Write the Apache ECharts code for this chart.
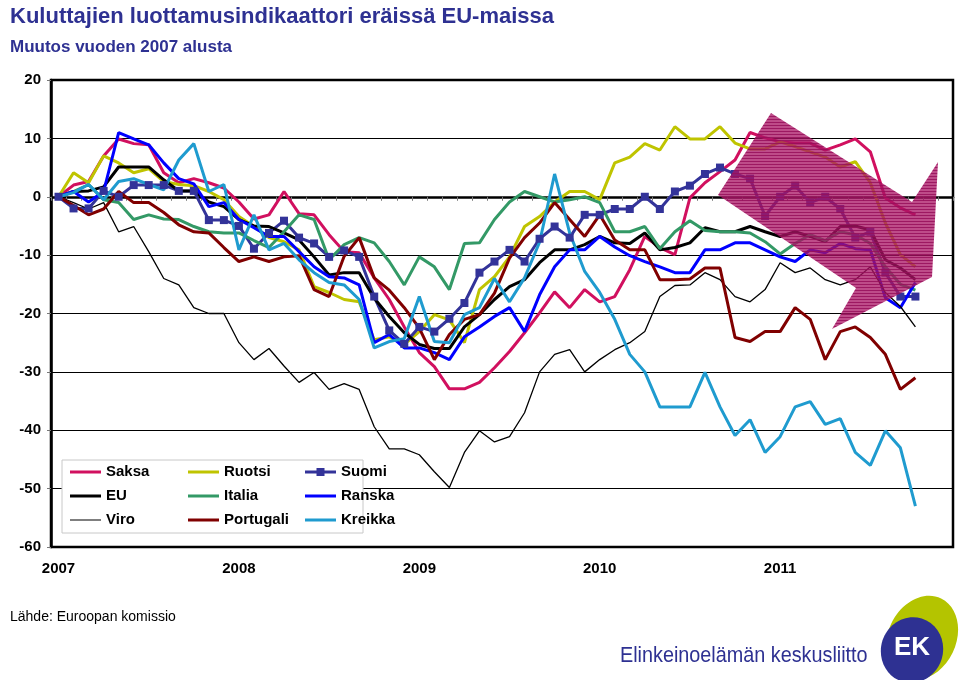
<!DOCTYPE html>
<html><head><meta charset="utf-8">
<script src="https://cdn.jsdelivr.net/npm/echarts@6/dist/echarts.min.js"></script>
<style>html,body{margin:0;padding:0;background:#fff}#c{width:960px;height:680px}</style>
</head><body><div id="c"></div>
<script>
// ---- data ----
const years = ['2007','2008','2009','2010','2011'];
const yTicks = [-60,-50,-40,-30,-20,-10,0,10,20];
const saksa = [0,2,2.6,7,9.9,9.1,8.9,4.1,2.4,3.1,2.4,1.5,-0.9,-3.8,-3.1,0.9,-2.9,-3.1,-6.5,-9.4,-9.6,-13.9,-17.6,-22.3,-26.7,-29.1,-32.9,-32.9,-31.8,-29.3,-26.5,-23.3,-19.9,-16.3,-19,-15.9,-18,-17.1,-12.5,-6.8,-8.7,-9.9,-0.2,2.4,4.3,6.3,11,10.1,9.4,9.2,9.2,8,8.9,9.9,7.7,-0.2,-1.9,-3.1];
const ruotsi = [0,4.1,2.4,7,5.8,4.1,4.8,2.6,2.1,1.9,0.9,-0.5,-3.4,-5.1,-7,-7.7,-9.1,-15.4,-16.4,-17.6,-18,-24.5,-24,-25.3,-23.1,-20.2,-21.1,-25,-15.9,-13.7,-10.3,-5.1,-3.4,-0.9,0.9,0.9,-0.5,5.8,6.8,9.1,8,12,9.9,9.9,12,9.2,8.2,8.2,9.4,8.6,7.7,6.8,5.1,6,2.4,-4.5,-9.9,-12];
const suomi = [0,-2,-2,1,0,2,2,2,1,1,-4,-4,-5,-8.9,-6.2,-4.1,-7,-8,-10.3,-9.2,-10.3,-17.1,-22.9,-25.2,-22.3,-23.1,-20.9,-18.2,-13,-11.1,-9.1,-11.1,-7.2,-5.1,-7,-3.1,-3.1,-2.1,-2.1,0,-2.1,0.9,1.9,3.9,5,3.9,3.1,-3.3,0,1.9,-1,0,-2.1,-7,-6,-13,-17.1,-17.1];
const eu = [0,0.9,1,1.7,5.1,5.1,5.1,2.9,1,1,-0.9,-1.7,-3.9,-5,-5.1,-6.2,-7.4,-10.3,-13.4,-13,-13,-17.4,-20.5,-23.3,-25.3,-26,-26,-22.3,-20.2,-17.6,-15.4,-14.2,-11.3,-9.1,-9.1,-8.2,-6.8,-7.9,-8,-6.2,-9.1,-8.7,-7.9,-5.3,-6,-6,-5.1,-6,-6.8,-6,-6.8,-7.7,-5.1,-5,-5.7,-10.8,-12.2,-14.2];
const italia = [0,0.9,2.1,-0.5,-1,-3.9,-3.1,-3.8,-3.9,-5.1,-6,-6.2,-6.2,-7.5,-8.7,-6,-3.1,-3.9,-10.8,-8.2,-7,-7.9,-11.1,-15.1,-10.3,-12,-15.9,-8,-7.9,-3.9,-0.9,0.9,0,-0.9,-0.5,0,-1,-6,-6,-5.1,-8.9,-6,-4.1,-5.8,-6,-6,-6.2,-7.7,-9.8,-8,-6.5,-7.5,-6,-6.5,-8,-12,-15,-16];
const ranska = [0,0.9,-0.9,0.9,11,9.9,8.9,5.8,3.1,2.2,-1.7,-1,-3.9,-5.3,-6.8,-6.8,-9.4,-12,-13.7,-13.9,-15.1,-25,-23.6,-25.9,-25.9,-26.7,-27.9,-24,-22.3,-20.5,-19,-23.1,-16.8,-12,-9.1,-9.1,-6.8,-8.6,-10.1,-11.1,-12,-13,-13,-9.1,-9.1,-7.9,-7.9,-9.1,-10.3,-11.1,-9.1,-9.6,-8,-8.9,-9.1,-17.3,-19,-14.7];
const viro = [0,-1,-2.1,-1,-6,-5.1,-9.4,-14,-15.1,-19,-20,-20,-25,-27.9,-26,-29,-31.8,-30.1,-33,-32,-33,-39.4,-43.2,-43.2,-44.2,-47.1,-49.8,-43.8,-40.1,-42,-41.1,-37,-30,-27,-26.2,-30,-27.9,-26.2,-25,-23.1,-17.1,-15.2,-15.1,-13,-14.2,-17.1,-18,-15.9,-11.3,-13,-12.2,-14.2,-15.1,-14.2,-12,-16.4,-18.8,-22.3];
const portugali = [0,-1.5,-3.1,-2.1,0.9,-1,-1,-2.7,-4.8,-6,-6.2,-8.7,-11.1,-10.3,-11.1,-10.3,-10.1,-15.9,-17.1,-10.2,-7,-13.9,-16,-19,-22.5,-27.9,-23.6,-21,-20.2,-16.5,-10.5,-7,-4.5,-1,-3.9,-6.8,-3.1,-7.4,-9.1,-9.1,-14.2,-14.2,-14.1,-12.2,-12.2,-24.1,-24.8,-23.1,-23.1,-19,-21,-27.9,-23.1,-22.3,-24.1,-27,-33,-31];
const kreikka = [0,0.7,2.1,-0.5,2.6,3.1,2.1,1.2,6.3,9.1,0.9,2.1,-9.1,-3.1,-9.1,-8,-10.8,-13,-14.7,-15.1,-17.6,-25.9,-24.8,-24.3,-17.1,-24.8,-25,-20.2,-19,-14,-18,-13.9,-7.8,3.9,-6.2,-12.8,-16.4,-21,-27,-30,-36,-36,-36,-30.1,-36,-40.9,-38.2,-43.8,-41.1,-36,-35.1,-39,-38,-43.8,-46,-40.1,-43,-53];

const categories = [];
years.forEach(y => { for (let m = 1; m <= 12; m++) categories.push(y + '-' + (m < 10 ? '0' + m : m)); });

// ---- chart ----
const FONT = '"Liberation Sans", Arial, sans-serif';
const NAVY = '#2e3192';
const chart = echarts.init(document.getElementById('c'));

function mk(name, data, color, width, extra) {
  return Object.assign({
    name, type: 'line', data, symbol: 'none', showSymbol: false,
    lineStyle: { color, width }, itemStyle: { color },
    emphasis: { disabled: true }, animation: false
  }, extra || {});
}

// legend icon paths (tiny corner dots keep the box 31x16 so nothing is stretched)
const BOX = 'M0,0L0.01,0L0,0.01Z M31,16L30.99,16L31,15.99Z ';
const ICON_THICK = 'path://' + BOX + 'M0,6.5H31V9.5H0Z';
const ICON_THIN = 'path://' + BOX + 'M0,7.4H31V8.6H0Z';
const ICON_MARK = 'path://' + BOX + 'M0,6.5H31V9.5H0Z M11.5,4H19.5V12H11.5Z';
function item(name, icon) { return { name, icon: icon || ICON_THICK }; }

// stripe pattern for arrow
const pc = document.createElement('canvas'); pc.width = 4; pc.height = 3;
const g = pc.getContext('2d');
g.fillStyle = 'rgba(170,20,100,0.76)'; g.fillRect(0, 0, 4, 3);
g.fillStyle = 'rgba(150,15,90,0.82)'; g.fillRect(0, 2, 4, 1);

const legendText = { fontSize: 15, fontWeight: 'bold', color: '#000', fontFamily: FONT };
function leg(items, left) {
  return { data: items, left, top: 464, orient: 'vertical', itemGap: 8, itemWidth: 31, itemHeight: 16,
    textStyle: legendText, z: 10, selectedMode: false, padding: 0,
    itemStyle: { borderWidth: 0 } };
}

chart.setOption({
  animation: false,
  title: [
    { text: 'Kuluttajien luottamusindikaattori eräissä EU-maissa', left: 5, top: 1,
      textStyle: { fontSize: 22, fontWeight: 'bold', color: NAVY, fontFamily: FONT } },
    { text: 'Muutos vuoden 2007 alusta', left: 5, top: 34,
      textStyle: { fontSize: 17, fontWeight: 'bold', color: NAVY, fontFamily: FONT } },
    { text: 'Lähde: Euroopan komissio', left: 5, top: 605,
      textStyle: { fontSize: 14, fontWeight: 'normal', color: '#000', fontFamily: FONT } }
  ],
  grid: { left: 51, right: 7, top: 80, bottom: 133, show: true, borderColor: '#000', borderWidth: 2.5, backgroundColor: 'transparent' },
  xAxis: {
    type: 'category', data: categories, boundaryGap: true,
    axisLine: { lineStyle: { color: '#000', width: 2.5 } },
    axisTick: { show: true, interval: 0, length: 4, lineStyle: { color: '#777', width: 1 } },
    axisLabel: {
      interval: (i) => i % 12 === 0, margin: 14,
      formatter: (v) => v.slice(0, 4),
      fontSize: 15, fontWeight: 'bold', color: '#000', fontFamily: FONT
    },
    splitLine: { show: false }
  },
  yAxis: {
    type: 'value', min: yTicks[0], max: yTicks[yTicks.length - 1], interval: 10,
    axisLine: { show: true, lineStyle: { color: '#000', width: 2.5 } },
    axisTick: { show: true, length: 4, lineStyle: { color: '#777' } },
    axisLabel: { fontSize: 15, fontWeight: 'bold', color: '#000', fontFamily: FONT, margin: 10 },
    splitLine: { show: true, lineStyle: { color: '#000', width: 1 } }
  },
  legend: [
    leg([item('Saksa'), item('EU'), item('Viro', ICON_THIN)], 70),
    leg([item('Ruotsi'), item('Italia'), item('Portugali')], 188),
    leg([item('Suomi', ICON_MARK), item('Ranska'), item('Kreikka')], 305)
  ],
  series: [
    mk('Saksa', saksa, '#d1105f', 3),
    mk('Ruotsi', ruotsi, '#bfc400', 3),
    mk('Suomi', suomi, '#333399', 3, { symbol: 'rect', symbolSize: 8, showSymbol: true }),
    mk('EU', eu, '#000000', 3),
    mk('Italia', italia, '#339966', 3),
    mk('Ranska', ranska, '#0000ff', 3),
    mk('Viro', viro, '#000000', 1.3),
    mk('Portugali', portugali, '#800000', 3),
    mk('Kreikka', kreikka, '#1f9bcf', 3)
  ],
  graphic: [
    { type: 'rect', shape: { x: 62, y: 460, width: 301, height: 73 },
      style: { fill: '#fff', stroke: '#c8c8c8', lineWidth: 1 }, z: 5 },
    { type: 'polygon', shape: { points: [[718,195],[771,113],[912,202],[938,162],[932,277],[832,329],[856,288]] },
      style: { fill: { image: pc, repeat: 'repeat' } }, z: 20 },
    { type: 'text', x: 620, y: 645, scaleX: 0.9,
      style: { text: 'Elinkeinoelämän keskusliitto', fontSize: 22, fontFamily: FONT, fill: NAVY }, z: 10 },
    { type: 'ellipse', shape: { cx: 0, cy: 0, rx: 34, ry: 44 }, x: 922, y: 638, rotation: -0.45,
      style: { fill: '#b4c400' }, z: 10 },
    { type: 'ellipse', shape: { cx: 0, cy: 0, rx: 31, ry: 33 }, x: 912, y: 650, rotation: -0.3,
      style: { fill: NAVY }, z: 11 },
    { type: 'text', x: 912, y: 648,
      style: { text: 'EK', fontSize: 26, fontWeight: 'bold', fontFamily: FONT, fill: '#fff', align: 'center', verticalAlign: 'middle' }, z: 12 }
  ]
});
</script></body></html>
